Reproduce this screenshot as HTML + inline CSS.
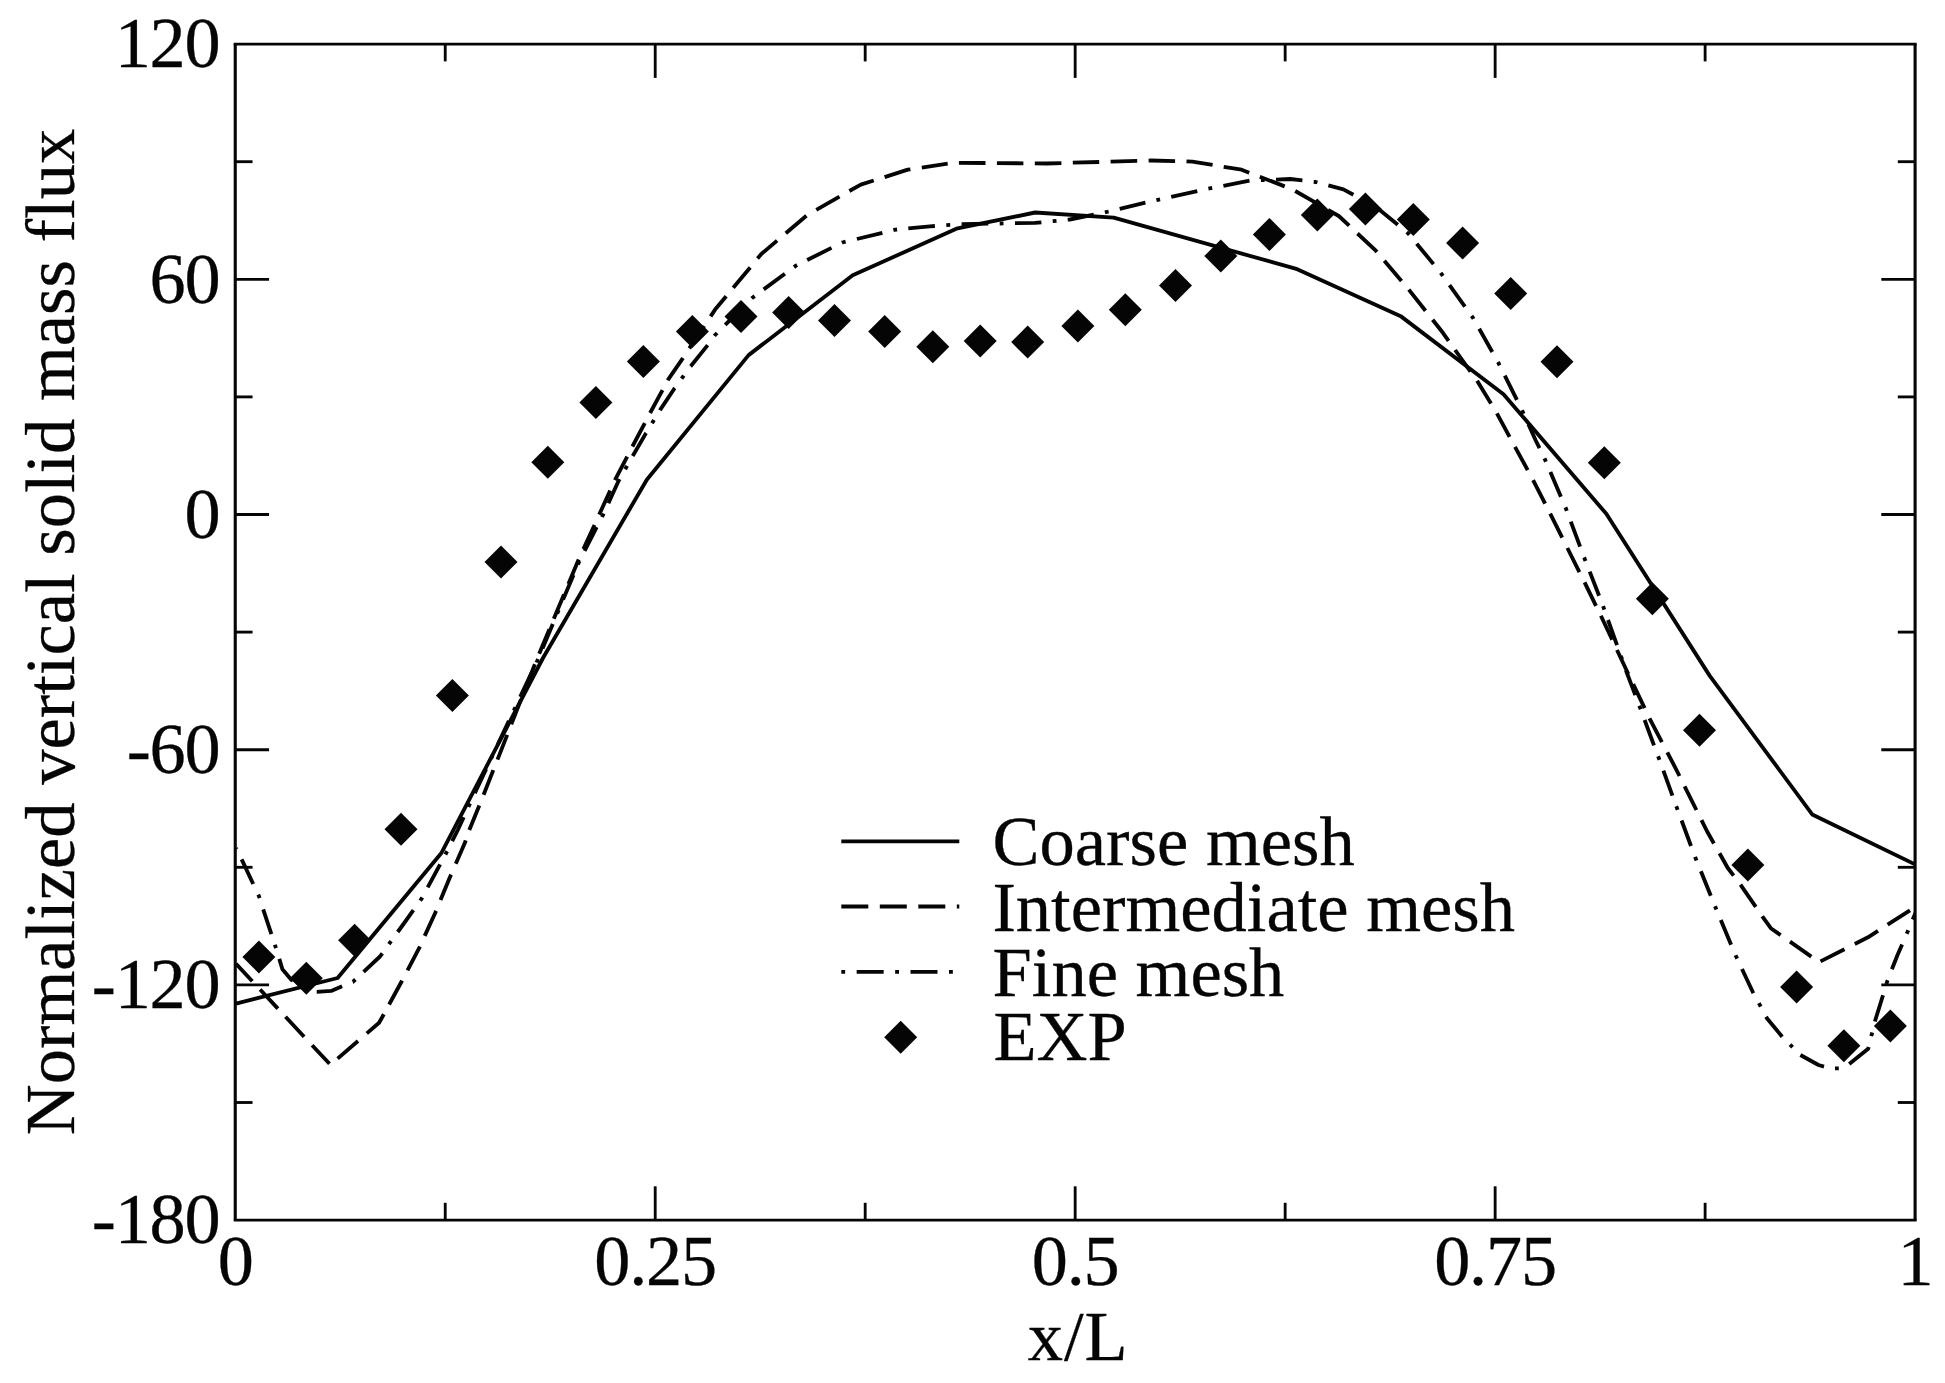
<!DOCTYPE html>
<html lang="en"><head><meta charset="utf-8"><title>Normalized vertical solid mass flux</title>
<style>html,body{margin:0;padding:0;background:#fff;}body{width:1945px;height:1383px;overflow:hidden;}svg{display:block;}text{font-family:"Liberation Serif","DejaVu Serif",serif;font-size:70.5px;fill:#050505;stroke:#050505;stroke-width:0.3px;}.t{font-size:72.3px;letter-spacing:-1.2px;}</style></head><body>
<svg width="1945" height="1383" viewBox="0 0 1945 1383">
<rect x="0" y="0" width="1945" height="1383" fill="#ffffff"/>
<g stroke="#050505" stroke-width="2.85" fill="none" stroke-linecap="butt">
<line x1="445.23" y1="1220.1" x2="445.23" y2="1202.8"/>
<line x1="445.23" y1="44.1" x2="445.23" y2="61.400000000000006"/>
<line x1="655.21" y1="1220.1" x2="655.21" y2="1186.3"/>
<line x1="655.21" y1="44.1" x2="655.21" y2="77.9"/>
<line x1="865.19" y1="1220.1" x2="865.19" y2="1202.8"/>
<line x1="865.19" y1="44.1" x2="865.19" y2="61.400000000000006"/>
<line x1="1075.17" y1="1220.1" x2="1075.17" y2="1186.3"/>
<line x1="1075.17" y1="44.1" x2="1075.17" y2="77.9"/>
<line x1="1285.16" y1="1220.1" x2="1285.16" y2="1202.8"/>
<line x1="1285.16" y1="44.1" x2="1285.16" y2="61.400000000000006"/>
<line x1="1495.14" y1="1220.1" x2="1495.14" y2="1186.3"/>
<line x1="1495.14" y1="44.1" x2="1495.14" y2="77.9"/>
<line x1="1705.12" y1="1220.1" x2="1705.12" y2="1202.8"/>
<line x1="1705.12" y1="44.1" x2="1705.12" y2="61.400000000000006"/>
<line x1="235.25" y1="161.70" x2="252.55" y2="161.70"/>
<line x1="1915.1" y1="161.70" x2="1897.8" y2="161.70"/>
<line x1="235.25" y1="279.30" x2="269.05" y2="279.30"/>
<line x1="1915.1" y1="279.30" x2="1881.3" y2="279.30"/>
<line x1="235.25" y1="396.90" x2="252.55" y2="396.90"/>
<line x1="1915.1" y1="396.90" x2="1897.8" y2="396.90"/>
<line x1="235.25" y1="514.50" x2="269.05" y2="514.50"/>
<line x1="1915.1" y1="514.50" x2="1881.3" y2="514.50"/>
<line x1="235.25" y1="632.10" x2="252.55" y2="632.10"/>
<line x1="1915.1" y1="632.10" x2="1897.8" y2="632.10"/>
<line x1="235.25" y1="749.70" x2="269.05" y2="749.70"/>
<line x1="1915.1" y1="749.70" x2="1881.3" y2="749.70"/>
<line x1="235.25" y1="867.30" x2="252.55" y2="867.30"/>
<line x1="1915.1" y1="867.30" x2="1897.8" y2="867.30"/>
<line x1="235.25" y1="984.90" x2="269.05" y2="984.90"/>
<line x1="1915.1" y1="984.90" x2="1881.3" y2="984.90"/>
<line x1="235.25" y1="1102.50" x2="252.55" y2="1102.50"/>
<line x1="1915.1" y1="1102.50" x2="1897.8" y2="1102.50"/>
<line x1="233.7" y1="44.1" x2="1916.6499999999999" y2="44.1"/>
<line x1="233.7" y1="1220.1" x2="1916.6499999999999" y2="1220.1" stroke-width="2.6"/>
<line x1="235.25" y1="44.1" x2="235.25" y2="1220.1" stroke-width="3.1"/>
<line x1="1915.1" y1="44.1" x2="1915.1" y2="1220.1" stroke-width="3.1"/>
</g>
<clipPath id="c"><rect x="235.25" y="44.1" width="1679.85" height="1176.0"/></clipPath>
<g clip-path="url(#c)" stroke="#050505" stroke-width="3.85" fill="none" stroke-linejoin="round">
<polyline points="236.0,1003.6 337.6,978.0 441.6,852.7 543.0,658.0 646.8,479.7 748.6,355.1 852.7,275.3 956.4,228.7 1035.1,212.5 1113.7,217.6 1297.2,269.2 1401.3,316.6 1503.5,394.2 1606.3,513.8 1709.6,675.6 1812.2,814.4 1915.5,864.6"/>
<path d="M236.0 963.7L252.3 981.2M260.1 989.5L277.9 1008.6M285.5 1016.8L304.1 1036.7M312.1 1045.2L329.5 1063.8M337.6 1058.6L358.0 1041.0M366.8 1033.4L379.1 1022.8L383.8 1014.3M389.1 1004.5L401.9 981.0L402.1 980.6M407.5 970.3L419.4 947.6L419.9 946.4M424.7 935.9L435.3 912.7L436.1 910.9M440.5 900.0L449.7 877.7L451.1 874.6M455.8 863.7L464.9 842.8L465.7 840.3M469.3 829.9L479.3 805.4M483.6 794.8L493.3 770.1M497.5 759.6L507.2 734.9M511.3 724.3L521.0 699.6M525.2 689.0L534.9 664.3M539.2 653.8L549.4 629.3M553.8 618.8L564.0 594.4M568.4 583.9L578.0 561.0L578.7 559.4M583.4 549.1L594.5 525.0M599.2 514.6L610.2 490.5M614.9 480.2L627.2 456.6M632.4 446.5L644.8 423.1M650.1 413.0L662.5 390.1M667.8 380.3L668.1 379.7L682.4 358.9L683.0 358.0M689.3 348.4L704.2 326.0M710.6 316.4L715.1 309.6L726.2 296.2M733.2 287.8L750.2 267.4M757.5 258.6L761.3 254.0L777.1 240.6M785.8 233.2L806.4 215.7M816.3 209.8L839.5 196.6M849.4 191.0L860.8 184.6L873.7 180.5M884.6 177.1L907.8 169.7L910.4 169.3M921.8 167.6L947.7 163.7M958.9 162.8L985.5 163.0M996.9 163.1L1023.4 163.3M1034.8 163.4L1046.6 163.5L1061.4 163.1M1072.8 162.7L1099.2 162.0M1110.6 161.7L1137.2 160.9M1148.6 160.6L1150.7 160.5L1175.1 161.1M1186.5 161.4L1192.4 161.6L1212.6 164.9M1223.7 166.8L1241.6 169.7L1249.2 172.7M1259.8 176.7L1284.7 186.4M1295.2 191.0L1318.2 204.2M1328.1 209.8L1338.8 216.0L1349.2 225.7M1357.5 233.5L1375.8 250.7L1376.9 252.0M1384.3 260.8L1401.5 281.0M1408.8 289.6L1425.5 310.8M1432.6 319.8L1442.9 332.8L1448.6 340.8M1455.1 350.0L1470.5 371.6M1477.1 380.8L1491.0 403.6M1496.9 413.4L1509.6 436.8M1515.0 446.8L1527.7 470.2M1533.1 480.2L1545.1 503.6M1550.2 513.7L1562.2 537.7M1567.4 548.0L1579.4 572.1M1584.6 582.4L1596.0 605.8M1600.9 615.8L1612.2 639.8M1617.0 650.0L1625.0 667.0L1628.3 674.0M1633.2 684.2L1644.6 708.2M1649.5 718.4L1661.9 742.2M1667.3 752.3L1674.6 766.3L1679.5 776.0M1684.6 786.3L1696.4 810.0M1701.5 820.2L1706.9 831.0L1713.9 843.5M1719.5 853.3L1727.8 868.0L1733.6 875.6M1740.5 884.7L1741.3 885.8L1755.8 906.8M1762.3 916.3L1762.5 916.6L1770.8 928.2L1780.6 935.1M1790.0 941.6L1790.0 941.6L1811.3 956.6M1820.5 961.4L1844.5 949.2M1854.8 944.0L1868.0 937.3L1878.0 930.9M1887.6 924.7L1910.0 910.3"/>
<path d="M236.0 848.0L236.6 849.2M241.6 859.4L242.7 861.6L253.2 884.0M258.2 894.6L258.9 896.0L259.6 898.2M263.2 909.3L271.4 934.1M274.9 944.7L275.2 945.7L276.0 948.2M279.3 958.9L282.4 969.2L291.5 980.0L292.9 980.6M303.1 985.4L306.5 987.0M316.7 991.8L316.8 991.8L331.2 990.9L342.1 986.3M352.6 981.9L352.9 981.8L355.4 979.5M363.6 971.8L380.0 956.5L382.3 953.3M388.9 944.2L391.1 941.2M397.7 932.0L403.5 924.0L413.4 910.1M420.2 900.7L421.6 898.7L422.3 897.5M427.7 887.3L440.1 864.3M445.4 854.5L446.9 851.7L447.2 851.2M452.2 841.2L457.8 830.0L463.7 817.2M468.4 806.9L470.0 803.4M474.8 793.1L486.2 769.0M491.1 758.7L492.7 755.3M497.5 745.0L508.9 720.9M513.8 710.6L515.4 707.2M520.2 696.8L531.6 672.8M536.5 662.5L537.4 660.5L538.0 659.0M542.5 648.5L552.8 624.0M557.2 613.5L558.7 610.0M563.1 599.5L573.5 575.0M577.9 564.5L579.4 561.0L579.4 561.0M584.6 550.9L596.7 527.2M602.0 517.0L603.0 515.0L603.6 513.6M608.4 503.3L618.5 481.0L619.6 479.1M625.2 469.2L627.1 465.9M632.7 456.0L633.6 454.5L646.0 433.1L646.1 433.0M652.0 423.3L654.0 420.0M659.9 410.3L660.3 409.6L674.6 388.2L674.8 388.0M681.6 378.7L683.8 375.6M690.6 366.3L690.9 366.0L707.1 345.9L707.6 345.2M714.4 335.9L715.1 335.0L717.1 333.0M725.2 324.9L743.8 306.3M751.7 298.4L752.1 298.0L754.7 296.1M763.7 289.4L784.9 273.8M794.0 267.1L796.0 265.6L797.1 265.0M807.2 260.0L831.5 247.9M841.9 242.7L842.3 242.5L845.6 241.7M856.9 239.0L882.4 232.8M893.4 230.2L895.5 229.7L897.1 229.5M908.3 228.4L930.0 226.3L934.9 226.0M946.3 225.1L950.2 224.9M961.6 224.1L988.3 223.7M999.7 223.5L1003.5 223.4M1015.0 223.2L1035.1 222.9L1041.4 222.3M1052.7 221.2L1056.5 220.8M1067.7 219.7L1069.8 219.5L1093.8 214.7M1104.9 212.4L1108.6 211.5M1119.7 208.9L1145.4 202.7M1156.4 200.1L1157.7 199.8L1160.1 199.3M1171.2 196.9L1197.3 191.2M1208.4 188.7L1210.9 188.2L1212.2 188.0M1223.4 185.8L1249.5 180.7M1260.9 180.2L1264.6 180.0M1276.0 179.6L1290.2 179.0L1302.4 180.4M1313.7 181.8L1315.7 182.0L1317.4 182.5M1328.4 185.4L1343.4 189.4L1353.4 194.8M1363.6 200.2L1367.0 202.1M1377.0 207.8L1397.8 224.8M1406.7 232.1L1408.2 233.4L1409.4 234.8M1416.7 243.7L1433.5 264.1M1440.7 272.8L1442.9 275.9M1449.5 285.1L1464.9 306.6M1471.6 315.8L1473.0 317.8L1473.6 318.9M1479.2 328.8L1492.3 352.0M1497.9 362.0L1498.4 362.9L1499.6 365.4M1504.8 375.6L1516.9 399.8M1522.0 410.2L1523.6 413.7M1528.4 424.3L1535.5 440.0L1539.5 448.1M1544.4 458.3L1544.9 459.3L1545.9 461.7M1550.4 472.0L1560.9 496.7M1565.4 507.3L1565.7 507.9L1566.8 510.9M1570.8 521.7L1580.1 546.7M1584.1 557.4L1584.2 557.6L1585.5 561.0M1589.7 571.6L1599.1 595.7M1603.1 606.1L1604.3 609.6M1608.0 620.0L1617.0 645.1M1620.8 655.8L1622.1 659.4M1625.9 670.2L1635.3 695.1M1639.3 705.7L1640.4 708.6L1640.7 709.3M1644.6 720.0L1654.0 745.3M1658.1 756.2L1658.4 757.0L1659.4 759.8M1663.4 770.7L1672.4 795.6M1676.3 806.3L1676.9 807.9L1677.6 809.8M1681.6 820.5L1691.0 846.0M1695.1 856.9L1695.4 857.7L1696.5 860.5M1700.9 871.3L1710.8 895.7M1715.0 906.2L1715.0 906.2L1716.4 909.6M1720.8 920.1L1731.1 944.7M1735.6 955.2L1735.9 956.0L1737.2 958.7M1742.0 969.0L1752.8 992.0L1753.4 993.2M1758.9 1003.2L1760.7 1006.6M1766.1 1016.7L1767.3 1018.8L1782.2 1036.7M1790.0 1044.6L1792.6 1047.2M1800.4 1055.0L1818.5 1065.0L1824.0 1066.6M1835.0 1068.4L1838.8 1068.4M1849.2 1064.0L1868.2 1048.7L1868.6 1047.0M1871.3 1036.1L1872.2 1032.5M1874.9 1021.6L1875.4 1019.8L1883.0 995.3M1886.4 984.0L1887.3 981.2L1887.7 980.3M1891.9 969.3L1897.4 955.2L1902.1 944.4M1906.7 933.8L1907.5 932.0L1908.2 930.2M1912.7 919.6L1915.5 913.0"/>
</g>
<g fill="#050505">
<path d="M258.9 940.5L275.4 957.0L258.9 973.5L242.4 957.0Z"/>
<path d="M306.3 961.7L322.8 978.2L306.3 994.7L289.8 978.2Z"/>
<path d="M354.6 923.8L371.1 940.3L354.6 956.8L338.1 940.3Z"/>
<path d="M401.0 812.8L417.5 829.3L401.0 845.8L384.5 829.3Z"/>
<path d="M452.4 679.1L468.9 695.6L452.4 712.1L435.9 695.6Z"/>
<path d="M501.0 545.4L517.5 561.9L501.0 578.4L484.5 561.9Z"/>
<path d="M547.8 445.7L564.3 462.2L547.8 478.7L531.3 462.2Z"/>
<path d="M595.9 386.1L612.4 402.6L595.9 419.1L579.4 402.6Z"/>
<path d="M643.4 345.1L659.9 361.6L643.4 378.1L626.9 361.6Z"/>
<path d="M692.4 315.0L708.9 331.5L692.4 348.0L675.9 331.5Z"/>
<path d="M741.0 300.0L757.5 316.5L741.0 333.0L724.5 316.5Z"/>
<path d="M788.6 296.1L805.1 312.6L788.6 329.1L772.1 312.6Z"/>
<path d="M834.5 303.9L851.0 320.4L834.5 336.9L818.0 320.4Z"/>
<path d="M884.7 315.1L901.2 331.6L884.7 348.1L868.2 331.6Z"/>
<path d="M932.8 330.2L949.3 346.7L932.8 363.2L916.3 346.7Z"/>
<path d="M980.2 324.4L996.7 340.9L980.2 357.4L963.7 340.9Z"/>
<path d="M1027.7 325.6L1044.2 342.1L1027.7 358.6L1011.2 342.1Z"/>
<path d="M1077.9 309.4L1094.4 325.9L1077.9 342.4L1061.4 325.9Z"/>
<path d="M1125.3 293.2L1141.8 309.7L1125.3 326.2L1108.8 309.7Z"/>
<path d="M1175.5 268.9L1192.0 285.4L1175.5 301.9L1159.0 285.4Z"/>
<path d="M1220.8 239.5L1237.3 256.0L1220.8 272.5L1204.3 256.0Z"/>
<path d="M1269.4 218.0L1285.9 234.5L1269.4 251.0L1252.9 234.5Z"/>
<path d="M1317.3 198.4L1333.8 214.9L1317.3 231.4L1300.8 214.9Z"/>
<path d="M1365.4 192.6L1381.9 209.1L1365.4 225.6L1348.9 209.1Z"/>
<path d="M1413.3 203.0L1429.8 219.5L1413.3 236.0L1396.8 219.5Z"/>
<path d="M1462.6 226.6L1479.1 243.1L1462.6 259.6L1446.1 243.1Z"/>
<path d="M1510.7 277.0L1527.2 293.5L1510.7 310.0L1494.2 293.5Z"/>
<path d="M1557.0 345.3L1573.5 361.8L1557.0 378.3L1540.5 361.8Z"/>
<path d="M1604.3 446.3L1620.8 462.8L1604.3 479.3L1587.8 462.8Z"/>
<path d="M1652.4 582.3L1668.9 598.8L1652.4 615.3L1635.9 598.8Z"/>
<path d="M1699.5 713.7L1716.0 730.2L1699.5 746.7L1683.0 730.2Z"/>
<path d="M1747.9 848.6L1764.4 865.1L1747.9 881.6L1731.4 865.1Z"/>
<path d="M1796.6 970.5L1813.1 987.0L1796.6 1003.5L1780.1 987.0Z"/>
<path d="M1843.9 1029.3L1860.4 1045.8L1843.9 1062.3L1827.4 1045.8Z"/>
<path d="M1890.4 1009.5L1906.9 1026.0L1890.4 1042.5L1873.9 1026.0Z"/>
</g>
<g stroke="#050505" stroke-width="3.85" fill="none">
<line x1="841.3" y1="841.4" x2="959.3" y2="841.4"/>
<line x1="841.3" y1="906.5" x2="959.3" y2="906.5" stroke-dasharray="27 11.5"/>
<line x1="841.3" y1="971.8" x2="959.3" y2="971.8" stroke-dasharray="3.85 11.5 27 11.5"/>
</g>
<path fill="#050505" d="M900.7 1020.8L917.2 1037.3L900.7 1053.8L884.2 1037.3Z"/>
<text x="992.5" y="864.8">Coarse mesh</text>
<text x="992.4" y="930.6">Intermediate mesh</text>
<text x="992.6" y="996.1">Fine mesh</text>
<text x="993.5" y="1060.1">EXP</text>
<text class="t" x="219.5" y="67.3" text-anchor="end">120</text>
<text class="t" x="219.5" y="302.5" text-anchor="end">60</text>
<text class="t" x="219.5" y="537.7" text-anchor="end">0</text>
<text class="t" x="219.5" y="772.9" text-anchor="end">-60</text>
<text class="t" x="219.5" y="1008.1" text-anchor="end">-120</text>
<text class="t" x="219.5" y="1243.3" text-anchor="end">-180</text>
<text class="t" x="235.2" y="1285.2" text-anchor="middle">0</text>
<text class="t" x="655.1" y="1285.2" text-anchor="middle">0.25</text>
<text class="t" x="1075.1" y="1285.2" text-anchor="middle">0.5</text>
<text class="t" x="1495.0" y="1285.2" text-anchor="middle">0.75</text>
<text class="t" x="1915.0" y="1285.2" text-anchor="middle">1</text>
<text x="1078.2" y="1360" text-anchor="middle" style="letter-spacing:1px">x/L</text>
<text transform="translate(74.1 632) rotate(-90)" text-anchor="middle">Normalized vertical solid mass flux</text>
</svg></body></html>
